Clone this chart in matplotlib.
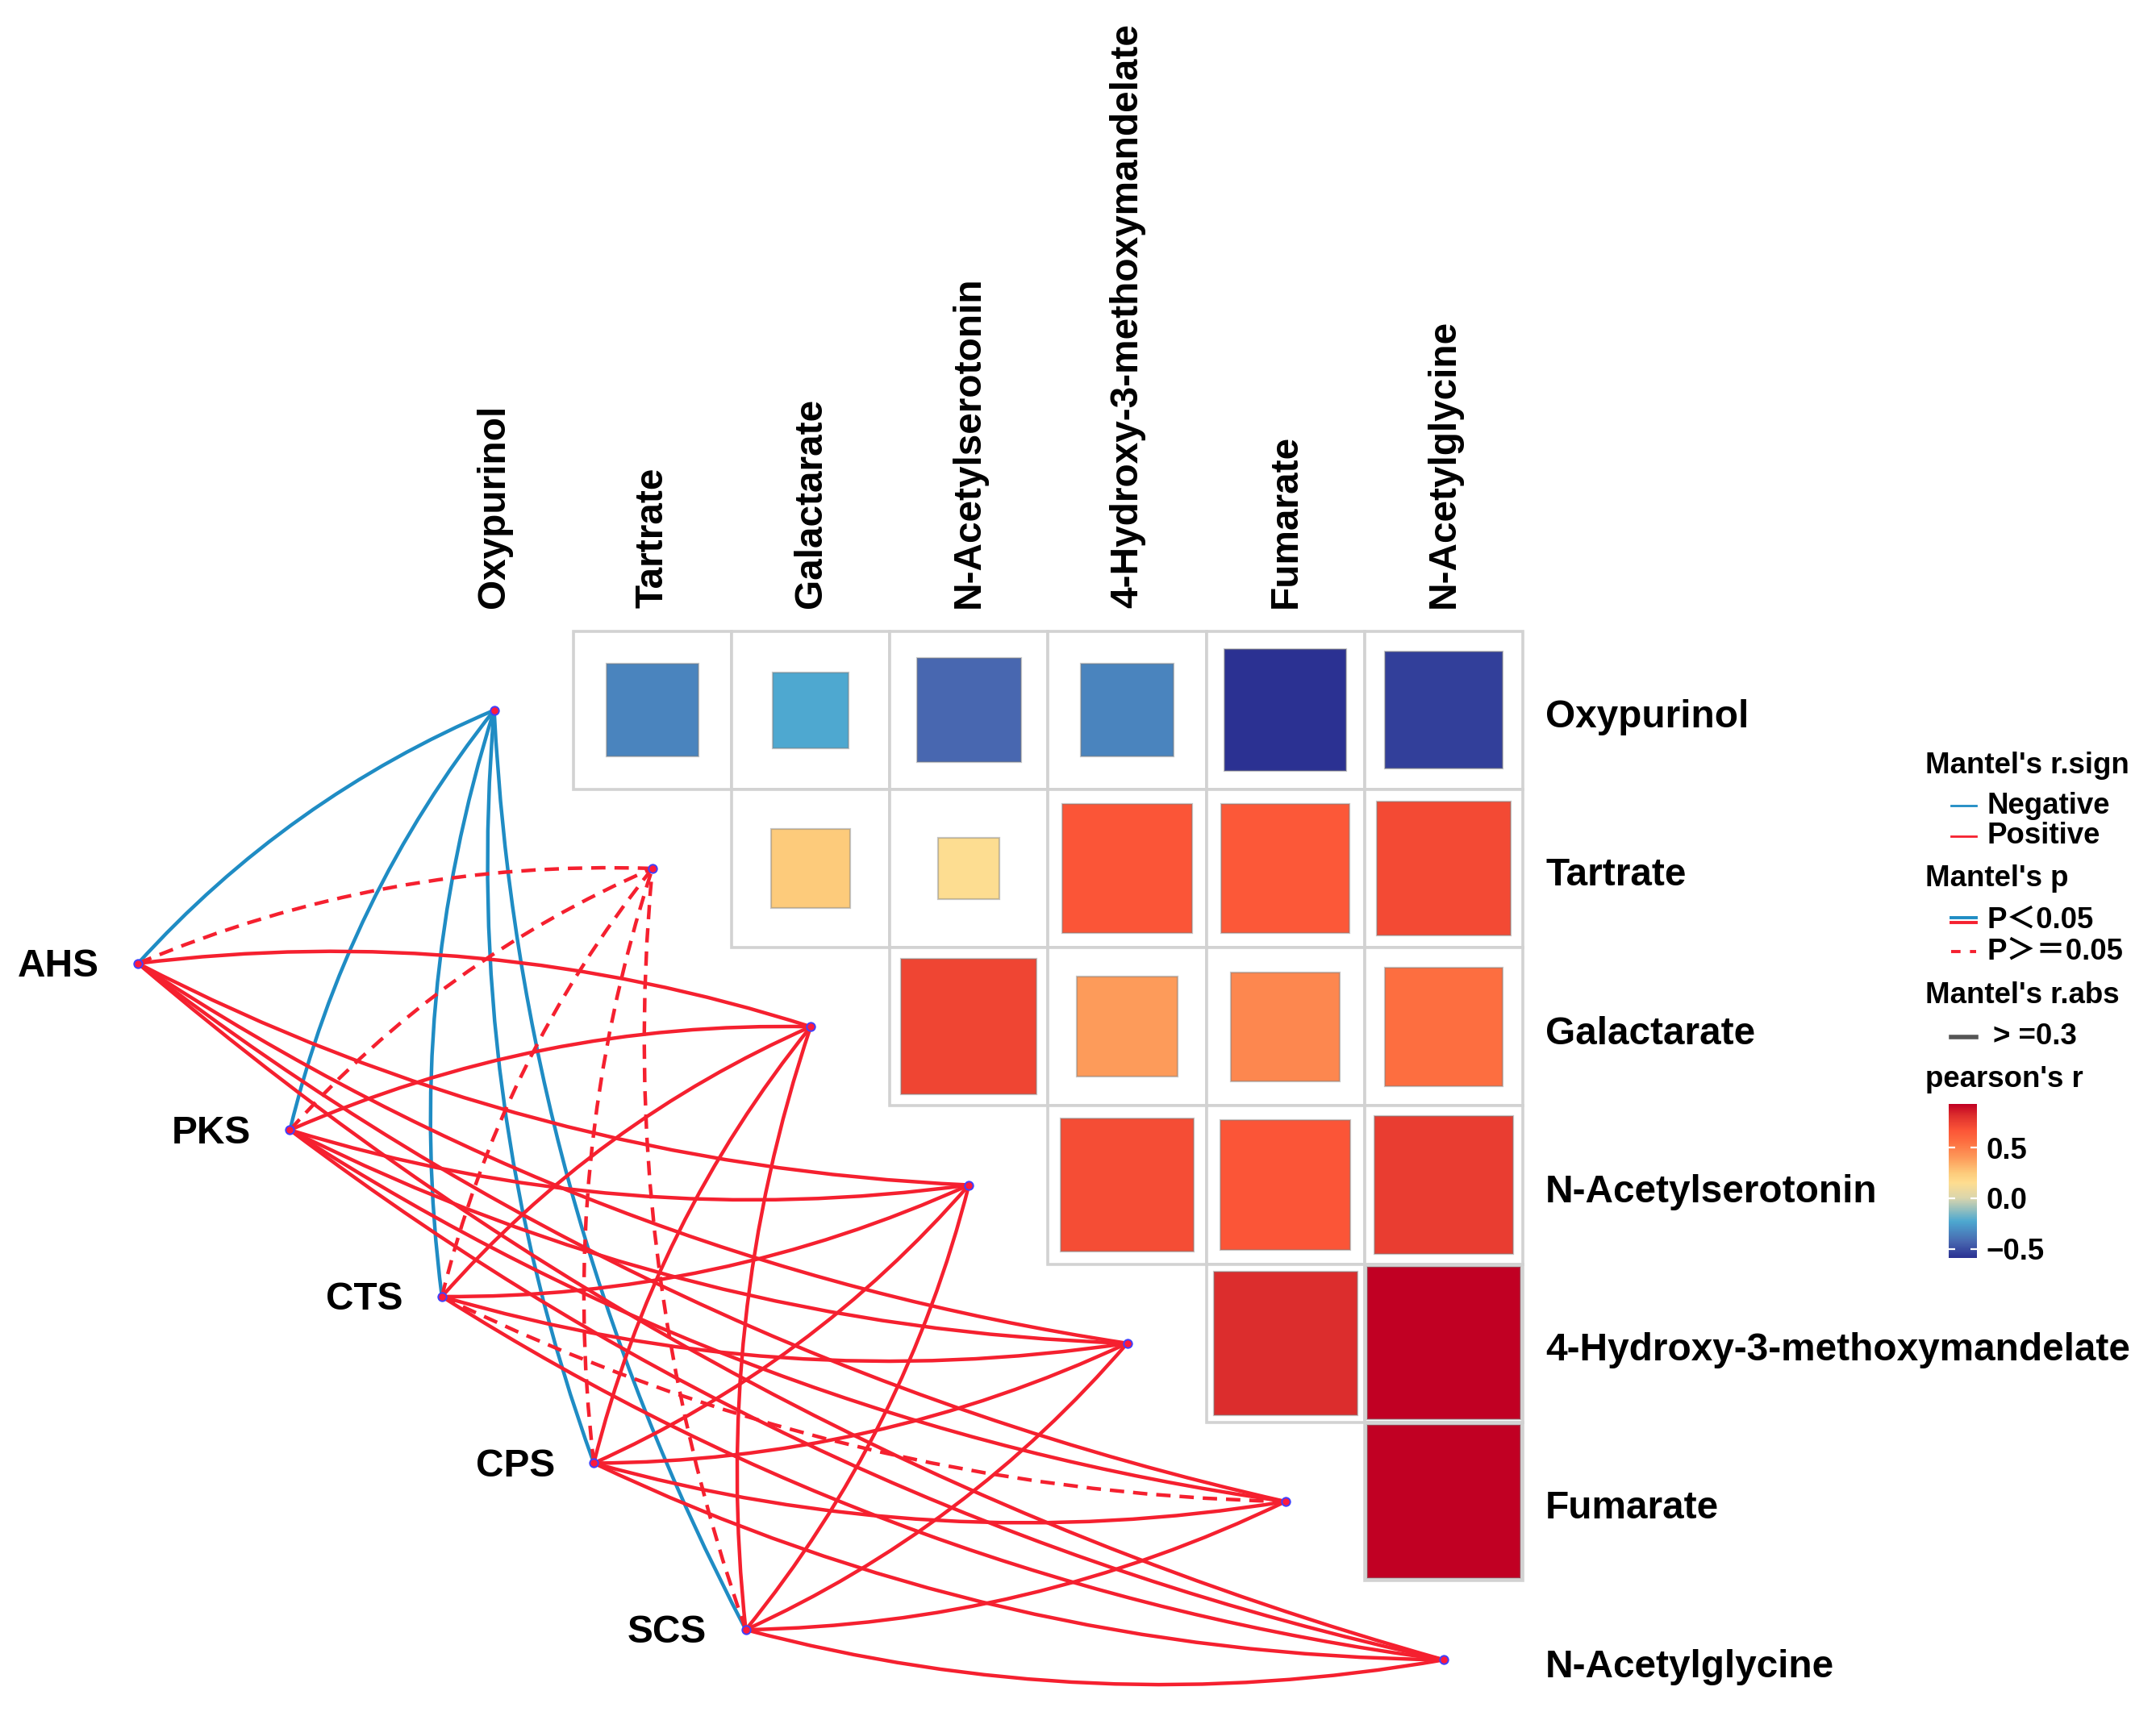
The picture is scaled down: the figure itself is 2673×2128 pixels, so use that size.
import numpy as np
import matplotlib
matplotlib.use('Agg')
import matplotlib.pyplot as plt
from matplotlib.path import Path
from matplotlib.patches import PathPatch, Rectangle
from matplotlib.colors import LinearSegmentedColormap, Normalize
from matplotlib.cm import ScalarMappable

plt.rcParams['font.family'] = ['Liberation Sans', 'Noto Sans CJK SC', 'DejaVu Sans']
plt.rcParams['font.weight'] = 'bold'

# 代谢物与环境因子
metabolites = ['Oxypurinol', 'Tartrate', 'Galactarate', 'N-Acetylserotonin',
               '4-Hydroxy-3-methoxymandelate', 'Fumarate', 'N-Acetylglycine']
env = ['AHS', 'PKS', 'CTS', 'CPS', 'SCS']

# pearson's r (上三角, 第i行对应第i+1..6列)
r_oxy = [-0.34, -0.23, -0.43, -0.34, -0.593, -0.55]
r_tar = [0.25, 0.15, 0.67, 0.66, 0.71]
r_gal = [0.73, 0.40, 0.47, 0.56]
r_nas = [0.70, 0.67, 0.76]
r_hma = [0.82, 0.93]
r_fum = [0.93]
r_rows = [r_oxy, r_tar, r_gal, r_nas, r_hma, r_fum]

# Mantel: 每个代谢物 x 环境因子 (AHS, PKS, CTS, CPS, SCS)
mantel_sign = [
    ['Negative'] * 5,
    ['Positive'] * 5,
    ['Positive'] * 5,
    ['Positive'] * 5,
    ['Positive'] * 5,
    ['Positive'] * 5,
    ['Positive'] * 5,
]
mantel_p_sig = [
    [True, True, True, True, True],
    [False, False, False, False, False],
    [True, True, True, True, True],
    [True, True, True, True, True],
    [True, True, True, True, True],
    [True, True, False, True, True],
    [True, True, True, True, True],
]

# 颜色
c_neg = '#1f8cc4'
c_pos = '#f5202f'
pal = [(0.0, '#2b3192'), (0.107, '#4868b0'), (0.238, '#4da8d0'), (0.389, '#d9d5ad'),
       (0.488, '#fedd90'), (0.553, '#fdcb7b'), (0.652, '#fd9a5a'), (0.757, '#fd6e40'),
       (0.829, '#fc5637'), (0.928, '#dd2e2d'), (1.0, '#c10023')]
cmap = LinearSegmentedColormap.from_list('mantel', pal)
all_r = np.concatenate([np.array(r) for r in r_rows])
norm = Normalize(vmin=all_r.min(), vmax=all_r.max())

n = len(metabolites)
fig = plt.figure(figsize=(2673 / 200, 2128 / 200), dpi=200)
ax = fig.add_axes([0, 0, 1, 1])
ax.set_xlim(-3.122, 10.50)
ax.set_ylim(-0.355, 10.487)
ax.axis('off')

# 相关性方格
for i, row in enumerate(r_rows):
    y = n - 1 - i
    for k, r in enumerate(row):
        j = i + 1 + k
        ax.add_patch(Rectangle((j - 0.5, y - 0.5), 1, 1, fc='white', ec='#d2d2d2', lw=1.3, zorder=1))
        side = np.sqrt(abs(r))
        ax.add_patch(Rectangle((j - side / 2, y - side / 2), side, side, fc=cmap(norm(r)),
                               ec=(0.5, 0.5, 0.5, 0.45), lw=0.8, zorder=2))

# 标签
fs = 17.2
for j, name in enumerate(metabolites):
    ax.text(j, 6.647, name, rotation=90, ha='center', va='bottom', fontsize=fs, fontweight='bold')
    ax.text(6.643, n - 1 - j - 0.045, name, ha='left', va='center', fontsize=fs, fontweight='bold')

# 环境因子节点
env_x = np.linspace(-2.25, 1.59, len(env))
env_y = np.linspace(4.40, 0.19, len(env))
for k, name in enumerate(env):
    ax.text(env_x[k] - 0.247, env_y[k] - 0.02, name, ha='right', va='center', fontsize=fs,
            fontweight='bold')

# Mantel 连线 (曲线)
curv = 0.11
for i in range(n):
    mx, my = i, n - 1 - i
    sgn = 1 if i < 3 else -1
    for k in range(len(env)):
        p0 = np.array([env_x[k], env_y[k]])
        p1 = np.array([mx, my])
        d = p1 - p0
        ctrl = (p0 + p1) / 2 + curv * sgn * np.array([-d[1], d[0]])
        path = Path([p0, ctrl, p1], [Path.MOVETO, Path.CURVE3, Path.CURVE3])
        col = c_neg if mantel_sign[i][k] == 'Negative' else c_pos
        ls = '-' if mantel_p_sig[i][k] else (0, (4, 2.5))
        ax.add_patch(PathPatch(path, fill=False, ec=col, lw=1.6, ls=ls, zorder=3))

ax.scatter(env_x, env_y, s=14, c='#ff1a3c', edgecolors='#4040ff', linewidths=0.7, zorder=5)
ax.scatter(np.arange(n), n - 1 - np.arange(n), s=14, c='#ff1a3c', edgecolors='#4040ff',
           linewidths=0.7, zorder=5)

# 图例
lfs = 13.2
tx, lx0, lx1, ltx = 9.041, 9.207, 9.363, 9.432
ax.text(tx, 5.648, "Mantel's r.sign", ha='left', va='center', fontsize=lfs, fontweight='bold')
ax.plot([lx0, lx1], [5.396, 5.396], color=c_neg, lw=1.0)
ax.text(ltx, 5.396, 'Negative', ha='left', va='center', fontsize=lfs, fontweight='bold')
ax.plot([lx0, lx1], [5.205, 5.205], color=c_pos, lw=1.0)
ax.text(ltx, 5.205, 'Positive', ha='left', va='center', fontsize=lfs, fontweight='bold')

ax.text(tx, 4.936, "Mantel's p", ha='left', va='center', fontsize=lfs, fontweight='bold')
ax.plot([lx0, lx1], [4.69, 4.69], color=c_neg, lw=1.4)
ax.plot([lx0, lx1], [4.66, 4.66], color=c_pos, lw=1.4)
ax.text(ltx, 4.675, 'P＜0.05', ha='left', va='center', fontsize=lfs, fontweight='bold')
ax.plot([lx0, lx1], [4.475, 4.475], color=c_pos, lw=1.4, ls=(0, (3, 3)))
ax.text(ltx, 4.475, 'P＞＝0.05', ha='left', va='center', fontsize=lfs, fontweight='bold')

ax.text(tx, 4.197, "Mantel's r.abs", ha='left', va='center', fontsize=lfs, fontweight='bold')
ax.plot([lx0, lx1], [3.937, 3.937], color='#555555', lw=2.0)
ax.text(ltx + 0.04, 3.937, '> =0.3', ha='left', va='center', fontsize=lfs, fontweight='bold')

ax.text(tx, 3.667, "pearson's r", ha='left', va='center', fontsize=lfs, fontweight='bold')

# 色条
to_fig = ax.transData + fig.transFigure.inverted()
(cx0, cy0) = to_fig.transform((9.189, 2.538))
(cx1, cy1) = to_fig.transform((9.371, 3.511))
cax = fig.add_axes([cx0, cy0, cx1 - cx0, cy1 - cy0])
cbar = fig.colorbar(ScalarMappable(norm=norm, cmap=cmap), cax=cax, ticks=[-0.5, 0.0, 0.5])
cbar.outline.set_visible(False)
cbar.set_ticklabels(['−0.5', '0.0', '0.5'])
cax.tick_params(direction='in', length=3, width=0.8, color='white', left=True, right=True,
                labelsize=lfs, pad=4)
for t in cax.get_yticklabels():
    t.set_fontweight('bold')

fig.savefig('out.png', dpi=200)
plt.close(fig)
